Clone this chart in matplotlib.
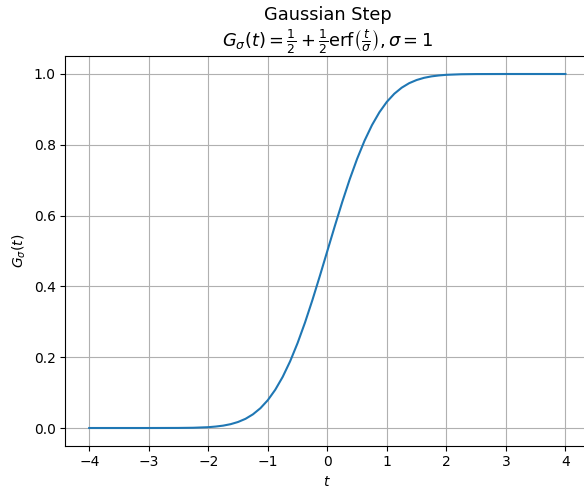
import matplotlib
matplotlib.use('Agg')
import matplotlib.pyplot as plt

# values
t = [-4.0, -3.5, -3.0, -2.5, -2.25, -2.0, -1.875, -1.75, -1.625, -1.5, -1.375,
     -1.25, -1.125, -1.0, -0.875, -0.75, -0.625, -0.5, -0.375, -0.25, -0.125,
     0.0, 0.125, 0.25, 0.375, 0.5, 0.625, 0.75, 0.875, 1.0, 1.125, 1.25,
     1.375, 1.5, 1.625, 1.75, 1.875, 2.0, 2.25, 2.5, 3.0, 3.5, 4.0]
G = [0.0, 0.0, 0.0, 0.0002, 0.0007, 0.0023, 0.0041, 0.0067, 0.0108, 0.0170,
     0.0259, 0.0386, 0.0558, 0.0786, 0.1080, 0.1444, 0.1884, 0.2398, 0.2979,
     0.3618, 0.4299, 0.5, 0.5701, 0.6382, 0.7021, 0.7602, 0.8116, 0.8556,
     0.8920, 0.9214, 0.9442, 0.9614, 0.9741, 0.9830, 0.9892, 0.9933, 0.9959,
     0.9977, 0.9993, 0.9998, 1.0, 1.0, 1.0]

fig = plt.figure(figsize=(5.84, 4.87), dpi=100)
ax = fig.add_axes([0.112, 0.0848, 0.897, 0.7996])
ax.plot(t, G)
ax.grid()
ax.set_xlabel(r'$t$')
ax.set_ylabel(r'$G_\sigma(t)$')
ax.set_title('Gaussian Step\n' + r'$G_\sigma(t) = \frac{1}{2} + \frac{1}{2}\mathrm{erf}\left(\frac{t}{\sigma}\right), \sigma = 1$',
             fontsize=12.8)
fig.savefig('out.png', dpi=100)
